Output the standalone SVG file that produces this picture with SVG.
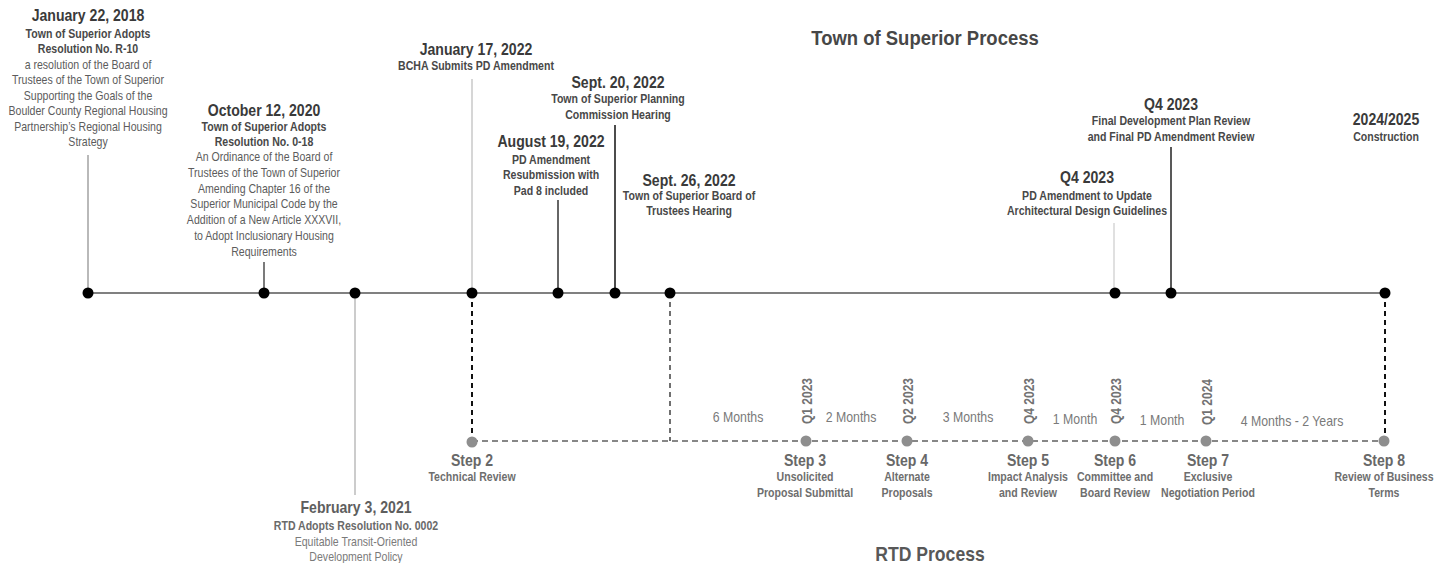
<svg xmlns="http://www.w3.org/2000/svg" width="1449" height="563" viewBox="0 0 1449 563">
<style>
text{font-family:"Liberation Sans",Arial,sans-serif;text-anchor:middle}
.hd{font-size:16px;font-weight:bold;fill:#3a3a3a}
.sb{font-size:12px;font-weight:bold;fill:#484848}
.bd{font-size:12px;fill:#5c5c5c}
.ttl{font-size:21px;font-weight:bold;fill:#474747}
.st{font-size:16px;font-weight:bold;fill:#686868}
.ss{font-size:12px;font-weight:bold;fill:#6e6e6e}
.q{font-size:15px;font-weight:bold;fill:#727272;text-anchor:start}
.dur{font-size:14px;fill:#7a7a7a}
.lt .hd{fill:#5e5e5e}.lt .sb{fill:#6a6a6a}.lt .bd{fill:#7a7a7a}
.dot{fill:#000}
.gdot{fill:#8e8e8e}
.dash{stroke:#111;fill:none;stroke-dasharray:5 4}
</style>
<g id="connectors" fill="none">
<line x1="88" y1="293" x2="1385" y2="293" stroke="#808080" stroke-width="2"/>
<line x1="88" y1="155" x2="88" y2="293" stroke="#8a8a8a" stroke-width="1.2"/>
<line x1="264" y1="262" x2="264" y2="293" stroke="#333" stroke-width="1.3"/>
<line x1="355" y1="293" x2="355" y2="495" stroke="#aaa" stroke-width="1.2"/>
<line x1="472" y1="79" x2="472" y2="293" stroke="#bbb" stroke-width="1.2"/>
<line x1="558" y1="200" x2="558" y2="293" stroke="#666" stroke-width="2"/>
<line x1="615" y1="125" x2="615" y2="293" stroke="#111" stroke-width="1.5"/>
<line x1="1114" y1="223" x2="1114" y2="293" stroke="#ccc" stroke-width="1.2"/>
<line x1="1171" y1="147" x2="1171" y2="293" stroke="#222" stroke-width="1.5"/>
<line class="dash" x1="472" y1="293" x2="472" y2="441" stroke-width="2"/>
<line class="dash" x1="670" y1="293" x2="670" y2="441" stroke-width="1.2"/>
<line class="dash" x1="1385" y1="293" x2="1385" y2="441" stroke-width="2"/>
<line class="dash" x1="472" y1="441" x2="1385" y2="441" stroke-width="1.2" style="stroke-dasharray:6 4"/>
</g>
<g id="title-town"><g transform="translate(925 0) scale(0.88 1)"><text class="ttl" x="0" y="45">Town of Superior Process</text></g></g>
<g id="title-rtd"><g transform="translate(930 0) scale(0.88 1)"><text class="ttl" x="0" y="561" style="font-size:20px;fill:#585858">RTD Process</text></g></g>
<g id="n-2018">
<circle class="dot" cx="88" cy="293" r="5.5"/>
<g transform="translate(88 0) scale(0.88 1)">
<text class="hd" x="0" y="21">January 22, 2018</text>
<text class="sb" x="0" y="38">Town of Superior Adopts</text>
<text class="sb" x="0" y="53">Resolution No. R-10</text>
<text class="bd" x="0" y="69">a resolution of the Board of</text>
<text class="bd" x="0" y="84">Trustees of the Town of Superior</text>
<text class="bd" x="0" y="100">Supporting the Goals of the</text>
<text class="bd" x="0" y="115">Boulder County Regional Housing</text>
<text class="bd" x="0" y="131">Partnership’s Regional Housing</text>
<text class="bd" x="0" y="146">Strategy</text>
</g></g>
<g id="n-2020">
<circle class="dot" cx="264" cy="293" r="5.5"/>
<g transform="translate(264 0) scale(0.88 1)">
<text class="hd" x="0" y="116">October 12, 2020</text>
<text class="sb" x="0" y="131">Town of Superior Adopts</text>
<text class="sb" x="0" y="146">Resolution No. 0-18</text>
<text class="bd" x="0" y="161">An Ordinance of the Board of</text>
<text class="bd" x="0" y="177">Trustees of the Town of Superior</text>
<text class="bd" x="0" y="193">Amending Chapter 16 of the</text>
<text class="bd" x="0" y="208">Superior Municipal Code by the</text>
<text class="bd" x="0" y="224">Addition of a New Article XXXVII,</text>
<text class="bd" x="0" y="240">to Adopt Inclusionary Housing</text>
<text class="bd" x="0" y="256">Requirements</text>
</g></g>
<g id="n-2021" class="lt">
<circle class="dot" cx="355" cy="293" r="5.5"/>
<g transform="translate(356 0) scale(0.88 1)">
<text class="hd" x="0" y="513">February 3, 2021</text>
<text class="sb" x="0" y="530">RTD Adopts Resolution No. 0002</text>
<text class="bd" x="0" y="546">Equitable Transit-Oriented</text>
<text class="bd" x="0" y="561">Development Policy</text>
</g></g>
<g id="n-jan2022">
<circle class="dot" cx="472" cy="293" r="5.5"/>
<g transform="translate(476 0) scale(0.88 1)">
<text class="hd" x="0" y="55">January 17, 2022</text>
<text class="sb" x="0" y="70">BCHA Submits PD Amendment</text>
</g></g>
<g id="n-aug2022">
<circle class="dot" cx="558" cy="293" r="5.5"/>
<g transform="translate(551 0) scale(0.88 1)">
<text class="hd" x="0" y="147">August 19, 2022</text>
<text class="sb" x="0" y="164">PD Amendment</text>
<text class="sb" x="0" y="179">Resubmission with</text>
<text class="sb" x="0" y="195">Pad 8 included</text>
</g></g>
<g id="n-sep20">
<circle class="dot" cx="615" cy="293" r="5.5"/>
<g transform="translate(618 0) scale(0.88 1)">
<text class="hd" x="0" y="88">Sept. 20, 2022</text>
<text class="sb" x="0" y="103">Town of Superior Planning</text>
<text class="sb" x="0" y="119">Commission Hearing</text>
</g></g>
<g id="n-sep26">
<circle class="dot" cx="670" cy="293" r="5.5"/>
<g transform="translate(689 0) scale(0.88 1)">
<text class="hd" x="0" y="186">Sept. 26, 2022</text>
<text class="sb" x="0" y="200">Town of Superior Board of</text>
<text class="sb" x="0" y="215">Trustees Hearing</text>
</g></g>
<g id="n-q4a">
<circle class="dot" cx="1115" cy="293" r="5.5"/>
<g transform="translate(1087 0) scale(0.88 1)">
<text class="hd" x="0" y="183">Q4 2023</text>
<text class="sb" x="0" y="200">PD Amendment to Update</text>
<text class="sb" x="0" y="215">Architectural Design Guidelines</text>
</g></g>
<g id="n-q4b">
<circle class="dot" cx="1171" cy="293" r="5.5"/>
<g transform="translate(1171 0) scale(0.88 1)">
<text class="hd" x="0" y="110">Q4 2023</text>
<text class="sb" x="0" y="125">Final Development Plan Review</text>
<text class="sb" x="0" y="141">and Final PD Amendment Review</text>
</g></g>
<g id="n-2024">
<circle class="dot" cx="1385" cy="293" r="5.5"/>
<g transform="translate(1386 0) scale(0.88 1)">
<text class="hd" x="0" y="125">2024/2025</text>
<text class="sb" x="0" y="141">Construction</text>
</g></g>
<g id="step2">
<circle class="gdot" cx="472" cy="442" r="5.5"/>
<g transform="translate(472 0) scale(0.88 1)">
<text class="st" x="0" y="466">Step 2</text>
<text class="ss" x="0" y="481">Technical Review</text>
</g></g>
<g id="step3">
<circle class="gdot" cx="806" cy="441" r="5.5"/>
<text class="q" transform="translate(812 424) rotate(-90) scale(0.8 1)">Q1 2023</text>
<g transform="translate(805 0) scale(0.88 1)">
<text class="st" x="0" y="466">Step 3</text>
<text class="ss" x="0" y="481">Unsolicited</text>
<text class="ss" x="0" y="497">Proposal Submittal</text>
</g></g>
<g id="step4">
<circle class="gdot" cx="907" cy="441" r="5.5"/>
<text class="q" transform="translate(913 424) rotate(-90) scale(0.8 1)">Q2 2023</text>
<g transform="translate(907 0) scale(0.88 1)">
<text class="st" x="0" y="466">Step 4</text>
<text class="ss" x="0" y="481">Alternate</text>
<text class="ss" x="0" y="497">Proposals</text>
</g></g>
<g id="step5">
<circle class="gdot" cx="1028" cy="441" r="5.5"/>
<text class="q" transform="translate(1034 424) rotate(-90) scale(0.8 1)">Q4 2023</text>
<g transform="translate(1028 0) scale(0.88 1)">
<text class="st" x="0" y="466">Step 5</text>
<text class="ss" x="0" y="481">Impact Analysis</text>
<text class="ss" x="0" y="497">and Review</text>
</g></g>
<g id="step6">
<circle class="gdot" cx="1115" cy="441" r="5.5"/>
<text class="q" transform="translate(1121 424) rotate(-90) scale(0.8 1)">Q4 2023</text>
<g transform="translate(1115 0) scale(0.88 1)">
<text class="st" x="0" y="466">Step 6</text>
<text class="ss" x="0" y="481">Committee and</text>
<text class="ss" x="0" y="497">Board Review</text>
</g></g>
<g id="step7">
<circle class="gdot" cx="1206" cy="441" r="5.5"/>
<text class="q" transform="translate(1212 425) rotate(-90) scale(0.8 1)">Q1 2024</text>
<g transform="translate(1208 0) scale(0.88 1)">
<text class="st" x="0" y="466">Step 7</text>
<text class="ss" x="0" y="481">Exclusive</text>
<text class="ss" x="0" y="497">Negotiation Period</text>
</g></g>
<g id="step8">
<circle class="gdot" cx="1384" cy="441" r="5.5"/>
<g transform="translate(1384 0) scale(0.88 1)">
<text class="st" x="0" y="466">Step 8</text>
<text class="ss" x="0" y="481">Review of Business</text>
<text class="ss" x="0" y="497">Terms</text>
</g></g>
<g id="durations">
<g transform="translate(738 0) scale(0.88 1)"><text class="dur" x="0" y="422">6 Months</text></g>
<g transform="translate(851 0) scale(0.88 1)"><text class="dur" x="0" y="422">2 Months</text></g>
<g transform="translate(968 0) scale(0.88 1)"><text class="dur" x="0" y="422">3 Months</text></g>
<g transform="translate(1075 0) scale(0.88 1)"><text class="dur" x="0" y="424">1 Month</text></g>
<g transform="translate(1162 0) scale(0.88 1)"><text class="dur" x="0" y="425">1 Month</text></g>
<g transform="translate(1292 0) scale(0.88 1)"><text class="dur" x="0" y="426">4 Months - 2 Years</text></g>
</g>
</svg>
